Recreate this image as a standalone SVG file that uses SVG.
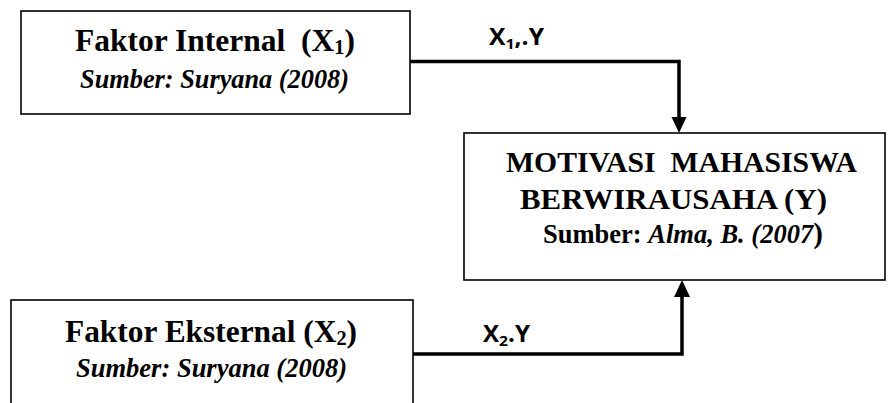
<svg xmlns="http://www.w3.org/2000/svg" width="888" height="403" viewBox="0 0 888 403">
  <style>
    .box { fill: #fff; stroke: #000; stroke-width: 1.6; }
    .title { font-family: "Liberation Serif", "Times New Roman", serif; font-weight: bold; fill: #000; }
    .ital { font-style: italic; }
    .lbl { font-family: "Open Sans", "Liberation Sans", sans-serif; font-weight: bold; fill: #000; }
    .conn { fill: none; stroke: #000; stroke-width: 3.5; }
    .head { fill: #000; stroke: none; }
  </style>

  <g id="connectors">
    <path class="conn" d="M410 61.5 H679 V119"/>
    <polygon class="head" points="671.5,117 686.5,117 679,133"/>
    <path class="conn" d="M413 354 H682 V295"/>
    <polygon class="head" points="674,297 690,297 682,280"/>
    <text class="lbl" x="489" y="44.5" font-size="23" textLength="55" lengthAdjust="spacingAndGlyphs">X<tspan font-size="15" dy="4">1</tspan><tspan dy="-4">,.Y</tspan></text>
    <text class="lbl" x="483" y="341.5" font-size="23" textLength="47" lengthAdjust="spacingAndGlyphs">X<tspan font-size="15" dy="4">2</tspan><tspan dy="-4">.Y</tspan></text>
  </g>

  <g id="faktor-internal">
    <rect class="box" x="21" y="11" width="389" height="103"/>
    <text class="title" x="75" y="51" font-size="31" textLength="280" lengthAdjust="spacingAndGlyphs" xml:space="preserve">Faktor Internal  (X<tspan font-size="20" dy="3">1</tspan><tspan dy="-3">)</tspan></text>
    <text class="title ital" x="80" y="88" font-size="26.5" textLength="269" lengthAdjust="spacingAndGlyphs">Sumber: Suryana (2008)</text>
  </g>

  <g id="motivasi">
    <rect class="box" x="464" y="133" width="421" height="147"/>
    <text class="title" x="506" y="172" font-size="29" textLength="351" lengthAdjust="spacingAndGlyphs" xml:space="preserve">MOTIVASI  MAHASISWA</text>
    <text class="title" x="520" y="209" font-size="29" textLength="307" lengthAdjust="spacingAndGlyphs">BERWIRAUSAHA (Y)</text>
    <text class="title" x="543" y="243" font-size="26.5">Sumber: <tspan class="ital">Alma, B. (2007</tspan><tspan font-size="29">)</tspan></text>
  </g>

  <g id="faktor-eksternal">
    <rect class="box" x="11" y="300" width="402" height="125"/>
    <text class="title" x="65" y="341.5" font-size="31" textLength="292" lengthAdjust="spacingAndGlyphs">Faktor Eksternal (X<tspan font-size="20" dy="3">2</tspan><tspan dy="-3">)</tspan></text>
    <text class="title ital" x="76" y="377" font-size="26.5" textLength="271" lengthAdjust="spacingAndGlyphs">Sumber: Suryana (2008)</text>
  </g>
</svg>
